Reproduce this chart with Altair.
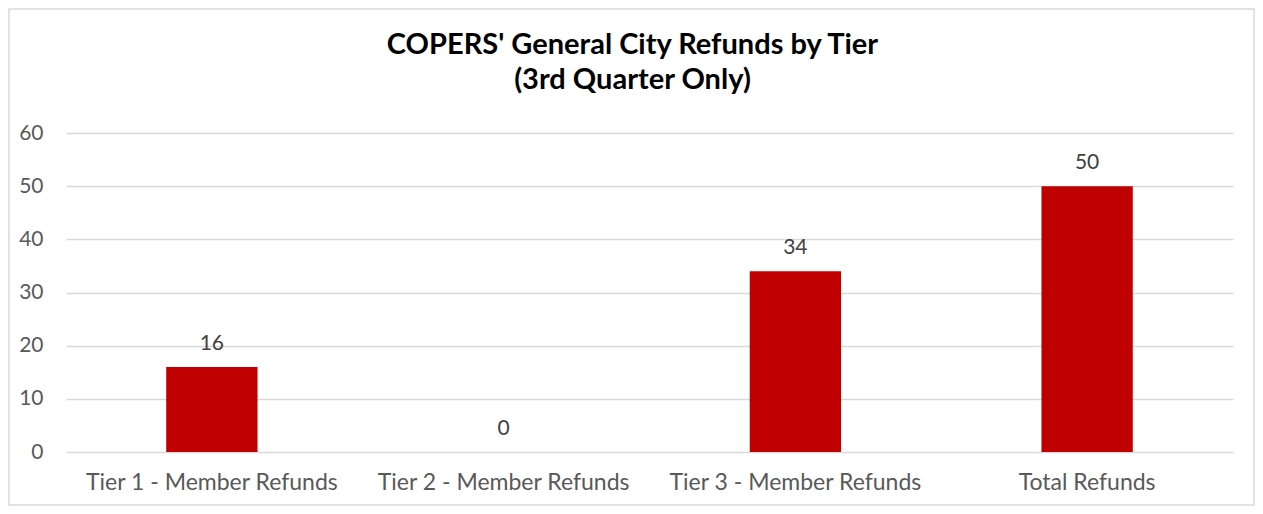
import altair as alt
import pandas as pd

categories = ["Tier 1 - Member Refunds", "Tier 2 - Member Refunds", "Tier 3 - Member Refunds", "Total Refunds"]
values = [16, 0, 34, 50]
title_lines = ["COPERS' General City Refunds by Tier", "(3rd Quarter Only)"]

df = pd.DataFrame({"category": categories, "value": values})

FONT = "Lato"
W, H = 1167, 319

x_enc = alt.X("category:N", sort=categories, title=None,
              scale=alt.Scale(paddingInner=0.687, paddingOuter=0.3435),
              axis=alt.Axis(labelAngle=0, ticks=False, domain=False, labelPadding=19,
                            labelFontSize=23, labelColor="#595959", labelFont=FONT, labelLimit=400))
y_enc = alt.Y("value:Q", title=None,
              scale=alt.Scale(domain=[0, 60], nice=False),
              axis=alt.Axis(values=[0, 10, 20, 30, 40, 50, 60], ticks=False, domain=False,
                            labelPadding=23, labelFontSize=21, labelColor="#595959",
                            labelFont=FONT, gridColor="#d9d9d9", gridWidth=1.5))

base = alt.Chart(df)
bars = base.mark_bar(color="#c00000").encode(x=x_enc, y=y_enc)
labels = base.mark_text(baseline="bottom", dy=-13, fontSize=21, color="#404040", font=FONT).encode(
    x=alt.X("category:N", sort=categories), y=alt.Y("value:Q"), text=alt.Text("value:Q"))

tdf = pd.DataFrame({"line": title_lines, "row": [0, 1]})
title1 = alt.Chart(tdf).transform_filter("datum.row == 0").mark_text(
    font=FONT, fontSize=29, fontWeight="bold", color="#000000", baseline="middle", align="center"
).encode(text="line:N", x=alt.value(W / 2 - 17), y=alt.value(-88))
title2 = alt.Chart(tdf).transform_filter("datum.row == 1").mark_text(
    font=FONT, fontSize=29, fontWeight="bold", color="#000000", baseline="middle", align="center"
).encode(text="line:N", x=alt.value(W / 2 - 17), y=alt.value(-53))

border = alt.Chart(pd.DataFrame({"a": [0]})).mark_rect(fill=None, stroke="#d9d9d9", strokeWidth=1.5).encode(
    x=alt.value(-57), x2=alt.value(W + 21), y=alt.value(-124), y2=alt.value(H + 53))

chart = alt.layer(border, bars, labels, title1, title2).properties(
    width=W, height=H,
    autosize=alt.AutoSizeParams(type="none"),
    padding={"left": 58, "top": 125, "right": 22, "bottom": 54},
).configure(background="white").configure_view(strokeWidth=0)

chart.save("out.html", embed_options={"renderer": "svg", "actions": False})
